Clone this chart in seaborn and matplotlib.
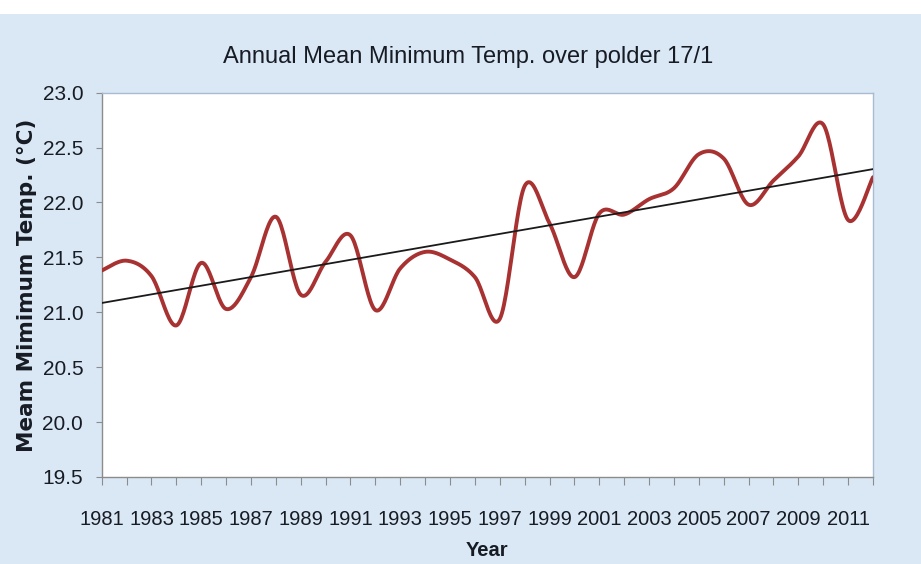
import numpy as np
import pandas as pd
import matplotlib
matplotlib.use("Agg")
import matplotlib.pyplot as plt
from matplotlib.patches import Rectangle
from matplotlib.ticker import MultipleLocator, FormatStrFormatter
import seaborn as sns

years = list(range(1981, 2013))
min_temps = [21.38, 21.47, 21.33, 20.88, 21.45, 21.03, 21.32, 21.87, 21.16, 21.46,
             21.70, 21.02, 21.40, 21.55, 21.48, 21.32, 20.94, 22.15, 21.81, 21.32,
             21.90, 21.89, 22.03, 22.13, 22.44, 22.40, 21.98, 22.20, 22.42, 22.71,
             21.84, 22.23]
year_labels = [str(y) for y in range(1981, 2012, 2)]

title = "Annual Mean Minimum Temp. over polder 17/1"
y_title = "Meam Mimimum Temp. (°C)"
x_title = "Year"


def smooth_line(x, y, steps=24):
    """Return x, y of a Catmull-Rom curve through the points (like Excel's smoothed line).

    Keyword arguments:
    x, y -- point coordinates
    steps -- samples per segment (default 24)
    """
    p = np.column_stack([x, y]).astype(float)
    p = np.vstack([p[0], p, p[-1]])
    out = []
    t = np.linspace(0, 1, steps, endpoint=False)[:, None]
    for i in range(1, len(p) - 2):
        p0, p1, p2, p3 = p[i - 1], p[i], p[i + 1], p[i + 2]
        seg = 0.5 * ((2 * p1) + (-p0 + p2) * t
                     + (2 * p0 - 5 * p1 + 4 * p2 - p3) * t ** 2
                     + (-p0 + 3 * p1 - 3 * p2 + p3) * t ** 3)
        out.append(seg)
    out.append(p[-2][None, :])
    out = np.vstack(out)
    return out[:, 0], out[:, 1]


df = pd.DataFrame({"year": years, "temp": min_temps})
sx, sy = smooth_line(df["year"], df["temp"])

sns.set_style("white")
plt.rcParams["font.family"] = ["Liberation Sans", "DejaVu Sans"]
text_color = "#161b24"

fig = plt.figure(figsize=(9.21, 5.64), dpi=100, facecolor="#dae8f5")
fig.patches.append(Rectangle((0, 1 - 14 / 564), 1, 14 / 564, transform=fig.transFigure,
                             facecolor="white", edgecolor="none", zorder=0))
ax = fig.add_axes([0.1104, 0.1543, 0.8375, 0.6814])
ax.set_facecolor("white")

sns.lineplot(x=sx, y=sy, sort=False, ax=ax, color="#a83232", linewidth=2.8, zorder=3)
sns.regplot(data=df, x="year", y="temp", scatter=False, ci=None, ax=ax,
            line_kws={"color": "#1a1a1a", "linewidth": 1.3, "zorder": 4})

ax.set_xlim(1981, 2012)
ax.set_ylim(19.5, 23.0)
ax.yaxis.set_major_locator(MultipleLocator(0.5))
ax.yaxis.set_major_formatter(FormatStrFormatter("%.1f"))
ax.set_xticks(range(1981, 2012, 2))
ax.set_xticklabels(year_labels)
ax.xaxis.set_minor_locator(MultipleLocator(1))

ax.tick_params(axis="x", which="both", direction="out", length=5.5, width=0.8,
               color="#8c8c8c", pad=18, labelsize=14.5, labelcolor=text_color, bottom=True)
ax.tick_params(axis="y", direction="out", length=4.3, width=0.8, color="#8c8c8c",
               pad=9, labelsize=15, labelcolor=text_color, left=True)

for side, spine in ax.spines.items():
    spine.set_visible(True)
    spine.set_linewidth(1.0)
    spine.set_color("#8c8c8c" if side in ("left", "bottom") else "#a9bbd0")

ax.set_xlabel(x_title, fontweight="bold", fontsize=14.5, color=text_color, labelpad=9)
ax.set_ylabel(y_title, family="DejaVu Sans", fontweight="bold", fontsize=15.5,
              color=text_color, labelpad=4)
fig.text(0.508, 0.899, title, ha="center", va="center", fontsize=17, color=text_color)

fig.savefig("out.png", dpi=100, facecolor=fig.get_facecolor())
